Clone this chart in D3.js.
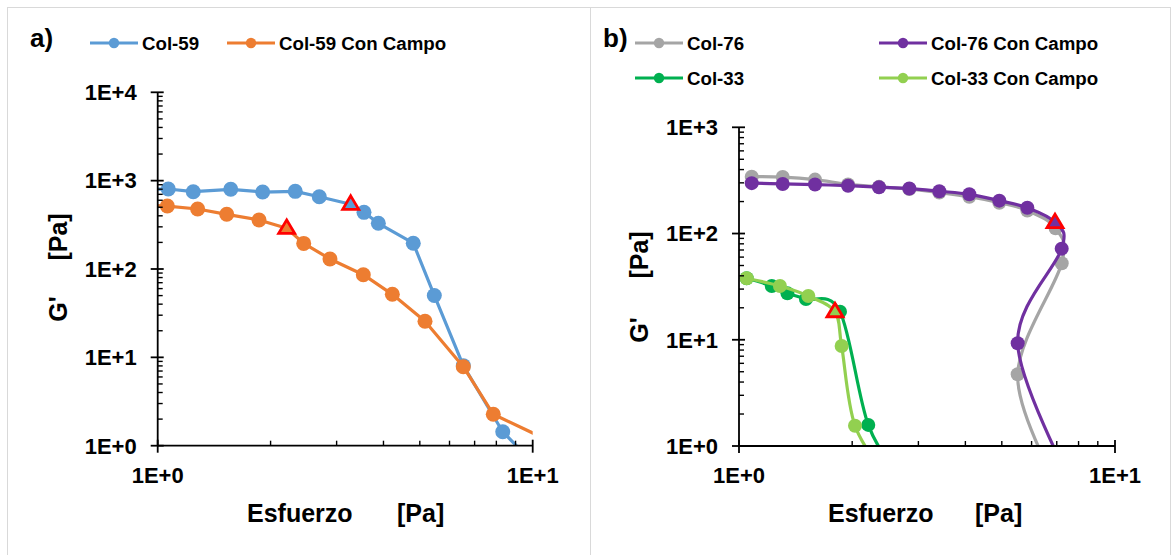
<!DOCTYPE html>
<html>
<head>
<meta charset="utf-8">
<script src="https://cdn.jsdelivr.net/npm/d3@7"></script>
<style>
  html, body { margin: 0; padding: 0; background: #fff; }
  svg { display: block; }
  text { font-family: "Liberation Sans", Arial, sans-serif; font-weight: bold; fill: #000; }
</style>
</head>
<body>
<svg id="chart" width="1172" height="555"></svg>
<script>
// ---------------- DATA ----------------
// Panel a)
const col59X   = [0.97, 1.067, 1.244, 1.566, 1.905, 2.327, 2.697, 3.271, 3.549, 3.876, 4.803, 5.465, 6.53, 8.32, 9.66];
const col59Y   = [800, 804, 750, 798, 743, 757, 658, 541, 438, 329, 196, 50.2, 8.05, 1.44, 0.75];
const col59Yield = 7;
const col59ccX = [0.97, 1.061, 1.278, 1.528, 1.863, 2.208, 2.451, 2.88, 3.534, 4.224, 5.162, 6.53, 7.85, 11.0];
const col59ccY = [525, 516, 478, 416, 359, 289, 195, 130, 86.2, 51.7, 25.6, 7.84, 2.27, 1.15];
const col59ccYield = 5;

// Panel b)
const col76X   = [1.081, 1.307, 1.593, 1.950, 2.357, 2.838, 3.41, 4.098, 4.924, 5.846, 6.95, 7.215, 5.51, 6.88];
const col76Y   = [343, 340, 322, 290, 275, 262, 243, 222, 195, 165, 112, 52.5, 4.73, 0.5];
const col76ccX = [1.081, 1.307, 1.593, 1.950, 2.357, 2.838, 3.41, 4.098, 4.924, 5.846, 6.925, 7.215, 5.51, 7.54];
const col76ccY = [298, 293, 289, 282, 273, 265, 250, 234, 204, 175, 127, 72.1, 9.27, 0.5];
const col76ccYield = 10;
const col33X   = [1.048, 1.222, 1.345, 1.507, 1.856, 2.207, 2.70];
const col33Y   = [37.9, 32.1, 27.4, 24.2, 18.4, 1.58, 0.5];
const col33ccX = [1.048, 1.285, 1.529, 1.80, 1.875, 2.035, 2.49];
const col33ccY = [37.9, 32.1, 25.8, 18.4, 8.74, 1.55, 0.5];
const col33ccYield = 3;

const yTicksA = [1, 10, 100, 1000, 10000];
const yTickLabelsA = ["1E+0", "1E+1", "1E+2", "1E+3", "1E+4"];
const yTicksB = [1, 10, 100, 1000];
const yTickLabelsB = ["1E+0", "1E+1", "1E+2", "1E+3"];
const xTicks = [1, 10];
const xTickLabels = ["1E+0", "1E+1"];

const seriesNamesA = ["Col-59", "Col-59 Con Campo"];
const seriesNamesB = ["Col-76", "Col-76 Con Campo", "Col-33", "Col-33 Con Campo"];
const panelLabels = ["a)", "b)"];
const xTitle = ["Esfuerzo", "[Pa]"];
const yTitle = ["G'", "[Pa]"];

// ---------------- DRAW ----------------
const svg = d3.select("#chart");
const zip = (xs, ys) => xs.map((x, i) => ({x, y: ys[i], i}));

// panel frames
svg.append("rect").attr("x", 7.5).attr("y", 7.5).attr("width", 583).attr("height", 560)
  .attr("fill", "none").attr("stroke", "#d9d9d9").attr("stroke-width", 1);
svg.append("rect").attr("x", 590.5).attr("y", 7.5).attr("width", 580).attr("height", 560)
  .attr("fill", "none").attr("stroke", "#d9d9d9").attr("stroke-width", 1);

function drawPanel(cfg) {
  const g = svg.append("g");
  const {x, y, id} = cfg;
  const [x0, x1] = x.range();
  const [yb, yt] = y.range();

  g.append("clipPath").attr("id", id).append("rect")
    .attr("x", x0).attr("y", yt).attr("width", x1 - x0).attr("height", yb - yt);

  // series
  cfg.series.forEach(s => {
    const data = zip(s.xs, s.ys);
    const line = d3.line().x(d => x(d.x)).y(d => y(d.y)).curve(cfg.curve);
    g.append("path").attr("d", line(data)).attr("fill", "none")
      .attr("stroke", s.color).attr("stroke-width", 3.2).attr("stroke-linejoin", "round")
      .attr("clip-path", `url(#${id})`);
    const inside = data.filter(d => d.x >= 1 && d.x <= 10 && d.y >= 1 && d.i !== s.yieldIdx);
    g.selectAll(null).data(inside).enter().append("circle")
      .attr("cx", d => x(d.x)).attr("cy", d => y(d.y)).attr("r", cfg.r).attr("fill", s.color);
  });
  // yield triangles on top
  cfg.series.forEach(s => {
    if (s.yieldIdx == null) return;
    const px = x(s.xs[s.yieldIdx]), py = y(s.ys[s.yieldIdx]);
    const h = 13.5, w = 16;
    g.append("path")
      .attr("d", `M${px},${py - h * 0.62}L${px + w / 2},${py + h * 0.38}L${px - w / 2},${py + h * 0.38}Z`)
      .attr("fill", s.color).attr("stroke", "#ff0000").attr("stroke-width", 2.8).attr("stroke-linejoin", "miter");
  });

  // axes
  const ax = g.append("g").attr("stroke", "#000").attr("stroke-width", 1.8);
  ax.append("line").attr("x1", x0).attr("x2", x0).attr("y1", yt).attr("y2", yb);
  ax.append("line").attr("x1", x0).attr("x2", x1).attr("y1", yb).attr("y2", yb);
  // y ticks
  cfg.yTicks.forEach((v, k) => {
    const py = y(v);
    ax.append("line").attr("x1", x0 - 7).attr("x2", x0 + 6).attr("y1", py).attr("y2", py);
    if (k < cfg.yTicks.length - 1) {
      for (let m = 2; m <= 9; m++) {
        const my = y(v * m);
        ax.append("line").attr("x1", x0).attr("x2", x0 + 5).attr("y1", my).attr("y2", my).attr("stroke-width", 1.4);
      }
    }
    g.append("text").attr("x", x0 - 21).attr("y", py + 7.8).attr("text-anchor", "end")
      .attr("font-size", 22).text(cfg.yLabels[k]);
  });
  // x ticks
  xTicks.forEach((v, k) => {
    const px = x(v);
    ax.append("line").attr("x1", px).attr("x2", px).attr("y1", yb - 6).attr("y2", yb + 7);
    if (k < xTicks.length - 1) {
      for (let m = 2; m <= 9; m++) {
        const mx = x(v * m);
        ax.append("line").attr("x1", mx).attr("x2", mx).attr("y1", yb - 5).attr("y2", yb).attr("stroke-width", 1.4);
      }
    }
    g.append("text").attr("x", px).attr("y", 483).attr("text-anchor", "middle")
      .attr("font-size", 22).text(xTickLabels[k]);
  });

  // axis titles
  g.append("text").attr("x", cfg.xTitleX[0]).attr("y", 522).attr("font-size", 25).text(xTitle[0]);
  g.append("text").attr("x", cfg.xTitleX[1]).attr("y", 522).attr("font-size", 25).text(xTitle[1]);
  g.append("text").attr("transform", `translate(${cfg.yTitleX},${cfg.yTitleY[0]}) rotate(-90)`)
    .attr("text-anchor", "middle").attr("font-size", 25).text(yTitle[0]);
  g.append("text").attr("transform", `translate(${cfg.yTitleX},${cfg.yTitleY[1]}) rotate(-90)`)
    .attr("text-anchor", "middle").attr("font-size", 25).text(yTitle[1]);

  // panel label
  g.append("text").attr("x", cfg.labelX).attr("y", 47).attr("font-size", 26).text(cfg.label);

  // legend
  cfg.legend.forEach(e => {
    g.append("line").attr("x1", e.lx).attr("x2", e.lx + 48).attr("y1", e.ly).attr("y2", e.ly)
      .attr("stroke", e.color).attr("stroke-width", 3.2);
    g.append("circle").attr("cx", e.lx + 24).attr("cy", e.ly).attr("r", 5.2).attr("fill", e.color);
    g.append("text").attr("x", e.lx + 52).attr("y", e.ly + 6.7).attr("font-size", 18.7).text(e.name);
  });
}

const C = {blue: "#5b9bd5", orange: "#ed7d31", gray: "#a5a5a5", purple: "#7030a0", green: "#00b050", lgreen: "#92d050"};

drawPanel({
  id: "clipA",
  x: d3.scaleLog().domain([1, 10]).range([157.7, 532.7]),
  y: d3.scaleLog().domain([1, 1e4]).range([445.7, 92.3]),
  curve: d3.curveLinear,
  r: 7.5,
  yTicks: yTicksA, yLabels: yTickLabelsA,
  series: [
    {xs: col59X, ys: col59Y, color: C.blue, yieldIdx: col59Yield},
    {xs: col59ccX, ys: col59ccY, color: C.orange, yieldIdx: col59ccYield}
  ],
  xTitleX: [247, 397], yTitleX: 67, yTitleY: [309, 237],
  label: panelLabels[0], labelX: 30,
  legend: [
    {name: seriesNamesA[0], color: C.blue, lx: 90, ly: 43},
    {name: seriesNamesA[1], color: C.orange, lx: 227, ly: 43}
  ]
});

drawPanel({
  id: "clipB",
  x: d3.scaleLog().domain([1, 10]).range([739, 1115]),
  y: d3.scaleLog().domain([1, 1e3]).range([446, 127.3]),
  curve: d3.curveCardinal.tension(0),
  r: 7,
  yTicks: yTicksB, yLabels: yTickLabelsB,
  series: [
    {xs: col76X, ys: col76Y, color: C.gray, yieldIdx: null},
    {xs: col76ccX, ys: col76ccY, color: C.purple, yieldIdx: col76ccYield},
    {xs: col33X, ys: col33Y, color: C.green, yieldIdx: null},
    {xs: col33ccX, ys: col33ccY, color: C.lgreen, yieldIdx: col33ccYield}
  ],
  xTitleX: [828, 975], yTitleX: 648, yTitleY: [330, 255],
  label: panelLabels[1], labelX: 603,
  legend: [
    {name: seriesNamesB[0], color: C.gray, lx: 635, ly: 43},
    {name: seriesNamesB[1], color: C.purple, lx: 879, ly: 43},
    {name: seriesNamesB[2], color: C.green, lx: 635, ly: 78},
    {name: seriesNamesB[3], color: C.lgreen, lx: 879, ly: 78}
  ]
});
</script>
</body>
</html>
